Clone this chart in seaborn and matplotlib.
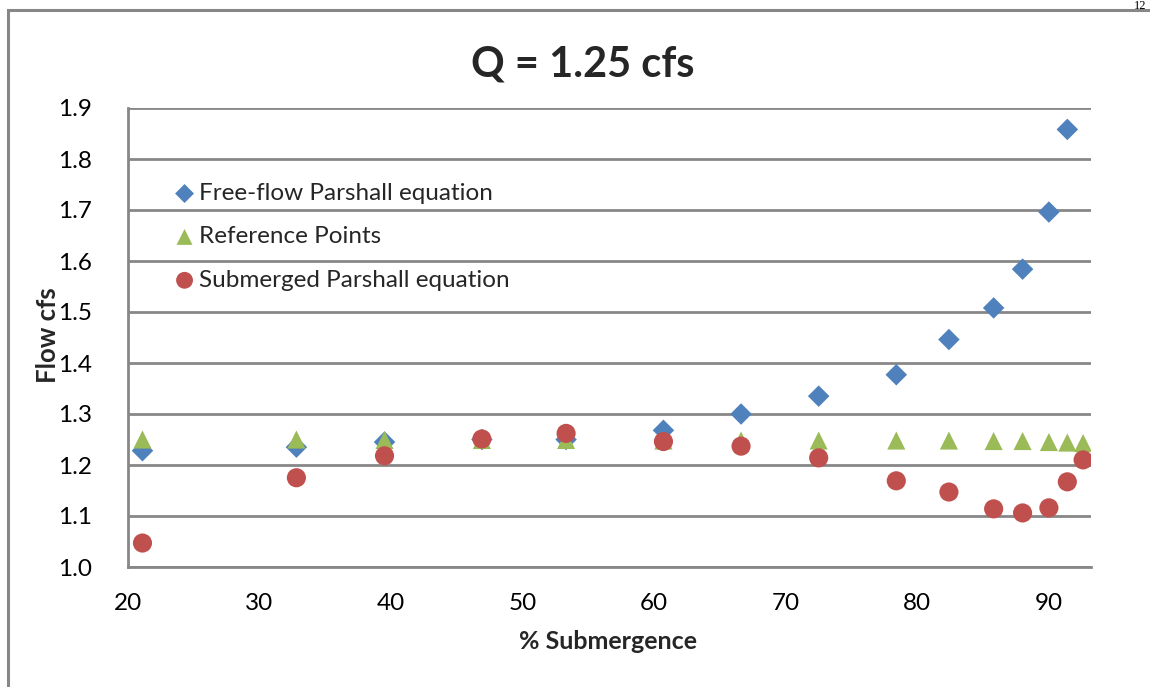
import matplotlib
matplotlib.use("Agg")
import matplotlib.pyplot as plt
from matplotlib.patches import Rectangle
import seaborn as sns
import numpy as np
import pandas as pd

# ---- data ----
submergence = [21.1, 32.8, 39.5, 46.9, 53.3, 60.7, 66.6, 72.5, 78.4, 82.4, 85.8, 88.0, 90.0, 91.4, 92.6]
free_flow = [1.228, 1.235, 1.245, 1.250, 1.250, 1.268, 1.300, 1.335, 1.377, 1.446, 1.508, 1.584, 1.696, 1.858, np.nan]
reference = [1.250, 1.250, 1.249, 1.249, 1.249, 1.248, 1.248, 1.248, 1.248, 1.248, 1.247, 1.247, 1.245, 1.244, 1.243]
submerged = [1.047, 1.175, 1.218, 1.251, 1.262, 1.246, 1.237, 1.214, 1.169, 1.147, 1.114, 1.106, 1.116, 1.167, 1.210]

series_names = ["Free-flow Parshall equation", "Reference Points", "Submerged Parshall equation"]
colors = ["#4F81BD", "#9BBB59", "#C0504D"]
markers = ["D", "^", "o"]
sizes = [120, 170, 190]

title = "Q = 1.25 cfs"
xlabel = "% Submergence"
ylabel = "Flow cfs"
xticks = [20, 30, 40, 50, 60, 70, 80, 90]
yticks = [1.0, 1.1, 1.2, 1.3, 1.4, 1.5, 1.6, 1.7, 1.8, 1.9]
page_number = "12"

df = pd.DataFrame({
    "x": submergence * 3,
    "y": free_flow + reference + submerged,
    "series": [series_names[0]] * len(submergence) + [series_names[1]] * len(submergence) + [series_names[2]] * len(submergence),
})

sns.set_theme(style="white")
plt.rcParams["font.family"] = ["Lato", "DejaVu Sans"]

fig = plt.figure(figsize=(11.5, 6.87), dpi=100)
ax = fig.add_axes([128 / 1150, 1 - 567 / 687, (1091 - 128) / 1150, (567 - 108) / 687])

# outer chart border
fig.patches.append(Rectangle((8 / 1150, -0.05), 1.2, 1 - 10 / 687 + 0.05, transform=fig.transFigure,
                             fill=False, edgecolor="#878787", linewidth=2.2, zorder=0))
fig.text(1146 / 1150, 1.0, page_number, ha="right", va="top", fontsize=9, color="black",
         family=["Liberation Serif", "DejaVu Serif"])

for name, c, m, s in zip(series_names, colors, markers, sizes):
    sub = df[df["series"] == name]
    sns.scatterplot(data=sub, x="x", y="y", ax=ax, color=c, marker=m, s=s,
                    edgecolor="none", linewidth=0, label=name, zorder=3)

ax.set_xlim(20, 93.2)
ax.set_ylim(1.0, 1.9)
ax.set_xticks(xticks)
ax.set_yticks(yticks)
ax.set_xticklabels([str(t) for t in xticks])
ax.set_yticklabels([f"{t:.1f}" for t in yticks])
ax.tick_params(axis="both", length=0, labelsize=17.5, colors="black")
ax.tick_params(axis="x", pad=19)
ax.tick_params(axis="y", pad=26)

ax.yaxis.grid(True, color="#878787", linewidth=2)
ax.xaxis.grid(False)
ax.set_axisbelow(True)
for side in ["top", "right"]:
    ax.spines[side].set_visible(False)
for side in ["left", "bottom"]:
    ax.spines[side].set_color("#878787")
    ax.spines[side].set_linewidth(2)

ax.set_xlabel(xlabel, fontsize=18, fontweight="bold")
ax.set_ylabel(ylabel, fontsize=18.5, fontweight="bold")
ax.xaxis.set_label_coords(0.498, -(630 - 567) / 459)
ax.yaxis.set_label_coords((60 - 128) / 963, 0.505)
fig.text(583 / 1150, 1 - 65 / 687, title, ha="center", va="center", fontsize=30, fontweight="bold")

leg = ax.legend(loc="upper left", bbox_to_anchor=(0.036, 0.858), frameon=False, fontsize=17.5,
                handlelength=1.0, handletextpad=0.1, labelspacing=0.92, borderaxespad=0, markerscale=0.88)

fig.savefig("out.png", dpi=100)
